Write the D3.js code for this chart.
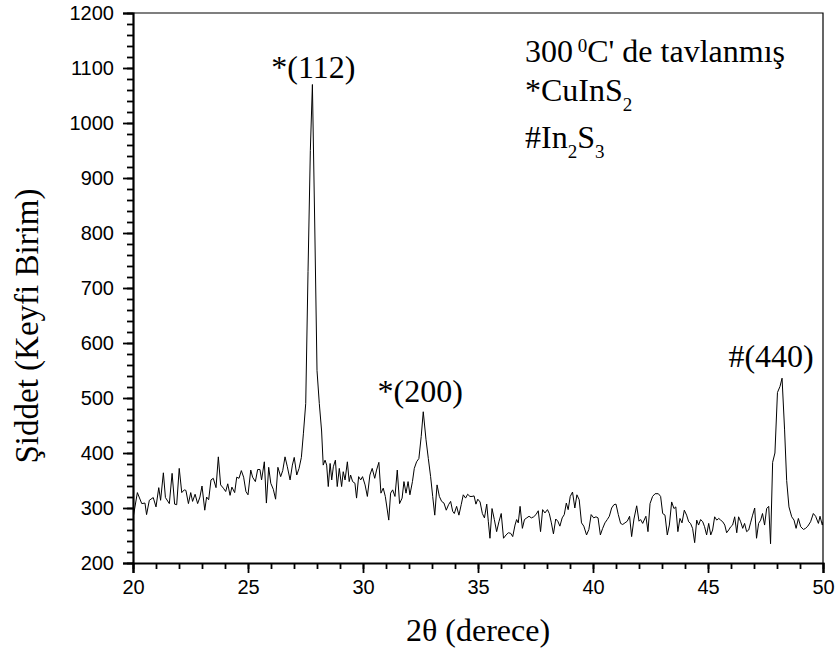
<!DOCTYPE html>
<html><head><meta charset="utf-8">
<script src="https://cdn.jsdelivr.net/npm/d3@7"></script>
<style>body{margin:0;background:#fff} svg{display:block}</style>
</head><body>
<svg id="chart" width="837" height="657"></svg>
<script>
// ---- data ----
const twoTheta = [
20.00,20.19,20.38,20.52,20.59,20.71,20.88,21.00,21.12,21.20,21.32,21.41,21.58,21.70,21.81,21.90,22.01,22.12,22.23,22.30,
22.41,22.51,22.59,22.70,22.81,22.91,23.00,23.12,23.20,23.29,23.39,23.49,23.61,23.71,23.81,23.93,24.03,24.12,24.22,24.30,
24.42,24.51,24.61,24.71,24.81,24.91,25.00,25.12,25.20,25.32,25.42,25.52,25.59,25.71,25.80,25.90,25.99,26.10,26.20,26.30,
26.42,26.51,26.61,26.71,26.83,26.93,27.01,27.12,27.22,27.32,
27.41,27.51,27.61,27.71,27.80,27.90,28.00,28.10,28.20,28.27,
28.35,28.42,28.49,28.57,28.64,28.71,28.80,28.88,28.97,29.07,29.14,29.22,29.32,29.40,29.46,29.55,29.65,29.72,29.81,29.90,
29.98,30.09,30.19,30.30,30.40,30.51,30.59,30.69,30.78,30.88,30.97,31.12,31.20,31.29,31.39,31.49,31.59,31.70,31.78,31.87,
31.96,32.04,32.15,32.23,32.33,32.43,32.53,32.62,32.74,32.84,32.94,33.03,33.12,33.22,33.32,33.42,33.52,33.62,33.72,33.81,
33.90,33.97,34.07,34.17,34.27,34.36,34.46,34.55,34.65,
34.74,34.83,34.91,34.99,35.09,35.19,35.28,35.38,35.45,35.52,35.61,35.71,35.81,35.91,36.01,36.11,36.22,36.32,36.42,36.51,
36.61,36.68,36.75,36.83,36.93,37.02,37.12,37.22,37.32,37.42,37.52,37.62,37.72,37.81,37.91,38.02,38.10,38.19,38.28,38.38,
38.47,38.56,38.66,38.75,38.84,38.92,39.01,39.11,39.21,39.30,39.40,39.50,39.60,39.72,39.82,39.92,40.03,40.13,40.22,40.32,
40.42,40.52,40.62,40.71,40.81,40.91,41.00,41.10,41.20,41.29,41.39,41.49,41.59,41.68,41.78,41.90,42.00,42.07,42.16,
42.30,42.39,42.48,42.59,42.70,42.84,42.94,43.03,43.13,43.23,43.32,43.42,43.52,43.60,43.69,43.78,43.87,43.97,44.07,44.16,
44.24,44.33,44.42,44.51,44.59,44.68,44.77,44.85,44.94,45.03,45.12,45.20,45.29,45.38,45.47,45.55,45.64,45.73,45.81,45.90,
45.99,46.07,46.16,46.25,46.33,46.42,46.51,46.59,46.68,46.77,46.85,46.94,47.03,47.11,47.20,47.29,47.37,47.46,47.55,47.64,
47.72,47.81,47.91,48.02,48.13,48.22,48.33,48.42,48.52,48.64,48.74,48.83,48.93,49.03,49.15,49.24,49.34,49.46,49.58,49.68,
49.80,49.87,49.97,50.00
];
const intensity = [
281,328,308,309,288,314,319,302,337,314,364,319,308,363,307,306,372,328,333,332,
308,328,312,325,308,320,340,296,320,315,351,354,337,393,342,336,330,344,323,338,
328,356,354,368,356,330,324,369,356,348,370,370,351,384,309,374,345,334,316,374,
357,368,393,375,351,378,392,360,372,392,
436,490,730,950,1070,820,550,490,440,378,
387,378,339,381,351,375,387,339,372,339,366,351,384,348,360,348,345,318,357,351,
357,342,321,360,372,354,369,383,327,336,321,278,327,333,321,369,308,318,348,327,
348,324,348,372,384,390,430,475,424,390,357,321,287,342,321,312,309,296,306,312,
294,290,303,287,306,324,318,325,321,
321,322,307,316,311,290,282,307,275,245,299,279,257,275,290,245,251,255,254,248,
269,279,273,303,263,279,282,285,282,284,288,295,257,297,291,297,290,273,253,280,
276,267,282,288,309,297,321,329,300,324,315,273,267,251,261,288,282,284,282,251,
263,273,279,285,300,306,307,288,272,270,273,276,285,248,280,304,276,279,272,
285,257,308,321,326,326,321,290,287,251,269,311,299,302,257,281,273,296,287,275,
272,263,237,278,269,279,275,266,251,272,251,260,284,278,281,278,275,269,255,260,
266,269,284,255,284,275,263,272,257,260,273,287,300,245,272,278,290,269,299,303,
235,383,400,510,521,536,442,350,302,284,278,263,281,266,261,263,267,275,290,285,
272,285,269,275
];
const peakLabels = ["*(112)", "*(200)", "#(440)"];
const peakAngles = [27.80, 32.62, 48.22];
const peakValues = [1070, 475, 536];
const xTickValues = [20, 25, 30, 35, 40, 45, 50];
const yTickValues = [200, 300, 400, 500, 600, 700, 800, 900, 1000, 1100, 1200];
const xTitle = "2\u03B8 (derece)";
const yTitle = "\u015Eiddet (Keyfi Birim)";

// ---- layout ----
const svg = d3.select("#chart");
const X0 = 133, X1 = 823, Y0 = 563, Y1 = 13;
const x = d3.scaleLinear().domain([20, 50]).range([X0, X1]);
const y = d3.scaleLinear().domain([200, 1200]).range([Y0, Y1]);
const serif = "'Liberation Serif','Times New Roman',Times,serif";
const sans = "'Liberation Sans',Arial,Helvetica,sans-serif";

// frame (top and right)
svg.append("path")
  .attr("d", `M${X0},${Y1}H${X1}V${Y0}`)
  .attr("fill", "none").attr("stroke", "#000").attr("stroke-width", 1.2);

// data line
svg.append("clipPath").attr("id", "clip").append("rect")
  .attr("x", X0).attr("y", Y1).attr("width", X1 - X0).attr("height", Y0 - Y1);
const pts = twoTheta.map((t, i) => [t, intensity[i]]);
svg.append("path")
  .datum(pts)
  .attr("clip-path", "url(#clip)")
  .attr("fill", "none").attr("stroke", "#000").attr("stroke-width", 1)
  .attr("stroke-linejoin", "miter")
  .attr("d", d3.line().x(d => x(d[0])).y(d => y(d[1])));

// x axis: minor then major
const gxMinor = svg.append("g").attr("transform", `translate(0,${Y0})`)
  .call(d3.axisBottom(x).tickValues(d3.range(20, 51, 1)).tickSize(6).tickFormat(""));
gxMinor.select(".domain").remove();
const gx = svg.append("g").attr("transform", `translate(0,${Y0})`)
  .call(d3.axisBottom(x).tickValues(xTickValues).tickSize(10).tickPadding(7).tickFormat(d3.format("d")));
gx.select(".domain").attr("stroke-width", 2.2);

// y axis
const gyMinor = svg.append("g").attr("transform", `translate(${X0},0)`)
  .call(d3.axisLeft(y).tickValues(d3.range(200, 1201, 20)).tickSize(6).tickFormat(""));
gyMinor.select(".domain").remove();
const gy = svg.append("g").attr("transform", `translate(${X0},0)`)
  .call(d3.axisLeft(y).tickValues(yTickValues).tickSize(10).tickPadding(9).tickFormat(d3.format("d")));
gy.select(".domain").attr("stroke-width", 2.2);

svg.selectAll(".tick line").attr("stroke-width", 1.8).attr("stroke", "#000");
svg.selectAll(".domain").attr("stroke", "#000");
svg.selectAll(".tick text").attr("font-family", sans).attr("font-size", 20).attr("fill", "#000");

// axis titles
svg.append("text").attr("x", (X0 + X1) / 2).attr("y", 641)
  .attr("text-anchor", "middle").attr("font-family", serif).attr("font-size", 32)
  .text(xTitle);
svg.append("text").attr("transform", "translate(38,326) rotate(-90)")
  .attr("text-anchor", "middle").attr("font-family", serif).attr("font-size", 33)
  .text(yTitle);

// peak annotations
const labelDx = [1, -3, -11], labelDy = [-7, -10, -11];
svg.selectAll("text.peak").data(peakLabels).join("text")
  .attr("class", "peak")
  .attr("x", (d, i) => x(peakAngles[i]) + labelDx[i])
  .attr("y", (d, i) => y(peakValues[i]) + labelDy[i])
  .attr("text-anchor", "middle").attr("font-family", serif).attr("font-size", 32)
  .text(d => d);

// legend text
const lg = svg.append("g").attr("font-family", serif).attr("font-size", 32);
const l1 = lg.append("text").attr("x", 525).attr("y", 62);
l1.append("tspan").text("300");
l1.append("tspan").attr("font-size", 19).attr("dy", -10).text(" 0");
l1.append("tspan").attr("dy", 10).text("C' de tavlanm\u0131\u015F");
const l2 = lg.append("text").attr("x", 525).attr("y", 101);
l2.append("tspan").text("*CuInS");
l2.append("tspan").attr("font-size", 19).attr("dy", 10).text("2");
const l3 = lg.append("text").attr("x", 525).attr("y", 148);
l3.append("tspan").text("#In");
l3.append("tspan").attr("font-size", 19).attr("dy", 10).text("2");
l3.append("tspan").attr("dy", -10).text("S");
l3.append("tspan").attr("font-size", 19).attr("dy", 10).text("3");
</script>
</body></html>
